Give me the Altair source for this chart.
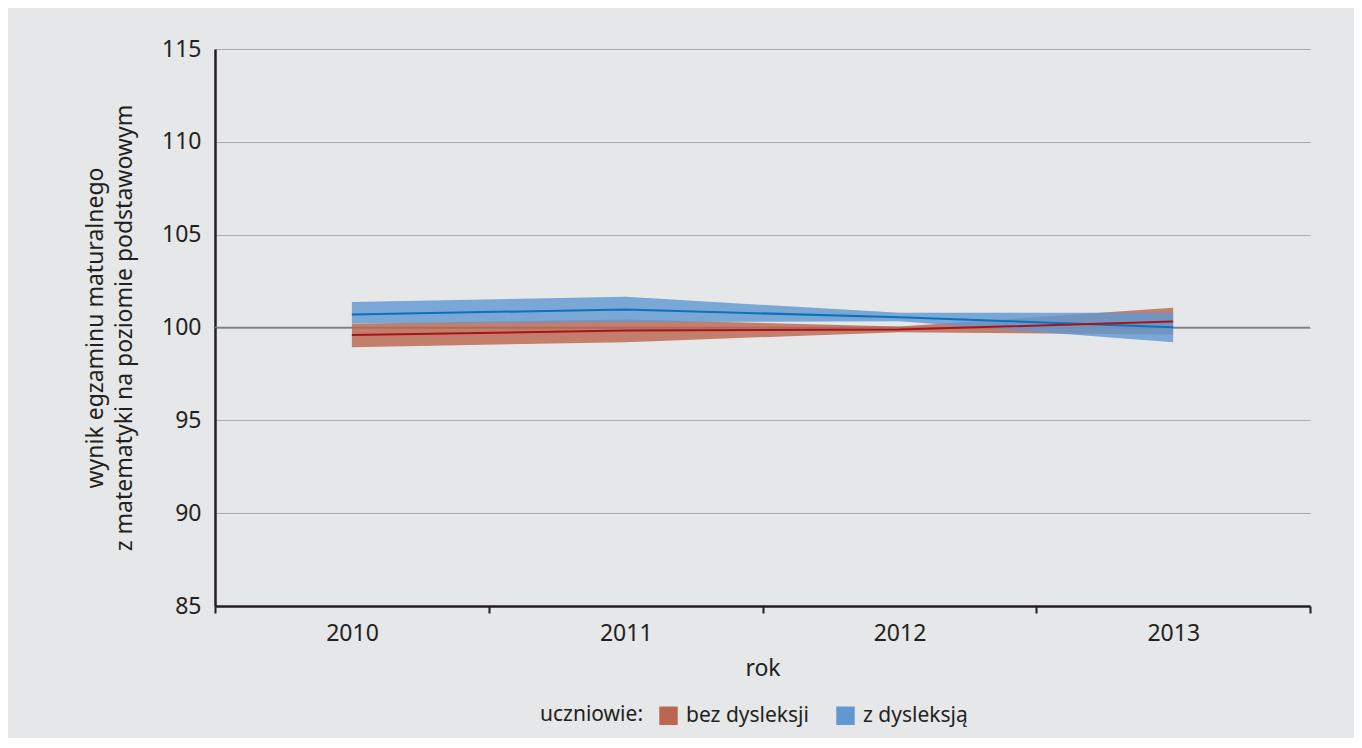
import altair as alt
import pandas as pd

years = [2010, 2011, 2012, 2013]
groups = ["bez dysleksji", "z dysleksją"]

bez_mean = [99.59, 99.84, 99.89, 100.32]
bez_low = [98.94, 99.21, 99.75, 99.62]
bez_high = [100.20, 100.43, 100.05, 101.06]

z_mean = [100.70, 100.97, 100.55, 100.02]
z_low = [100.22, 100.29, 100.34, 99.20]
z_high = [101.38, 101.65, 100.79, 100.80]

y_ticks = [85, 90, 95, 100, 105, 110, 115]
x_ticks = [2009.5, 2010.5, 2011.5, 2012.5, 2013.5]

rows = []
for i, yr in enumerate(years):
    rows.append({"rok": yr, "grupa": groups[0], "mean": bez_mean[i], "low": bez_low[i], "high": bez_high[i]})
    rows.append({"rok": yr, "grupa": groups[1], "mean": z_mean[i], "low": z_low[i], "high": z_high[i]})
df = pd.DataFrame(rows)

FONT = "Noto Sans"
TXT = "#231f20"
RED_BAND = "#bb6650"
BLUE_BAND = "#6099d2"
RED_LINE = "#a8131c"
BLUE_LINE = "#0b72bb"

x_enc = alt.X(
    "rok:Q",
    scale=alt.Scale(domain=[2009.5, 2013.5], nice=False, zero=False),
    axis=alt.Axis(
        values=x_ticks,
        title="rok",
        labelExpr="datum.value < 2013 ? toString(datum.value + 0.5) : ''",
        labelOffset=137,
        labelFlush=False,
        labelOverlap=False,
        labelPadding=9,
        tickSize=7,
        tickWidth=2,
        tickColor=TXT,
        domainColor=TXT,
        domainWidth=2.5,
        grid=False,
        titlePadding=12,
    ),
)

y_scale = alt.Scale(domain=[85, 115], nice=False, zero=False)
y_axis = alt.Axis(
    values=y_ticks,
    title=["wynik egzaminu maturalnego", "z matematyki na poziomie podstawowym"],
    tickSize=0,
    labelPadding=14,
    domainColor=TXT,
    domainWidth=2.5,
    grid=True,
    gridColor="#a9abae",
    gridWidth=1,
    titlePadding=25,
    titleLineHeight=29,
)

base = alt.Chart(df)

ref = alt.Chart(pd.DataFrame({"v": [100]})).mark_rule(color="#7d7f82", strokeWidth=1.5).encode(
    y=alt.Y("v:Q", scale=y_scale, axis=y_axis)
)

bands = base.mark_area(opacity=0.82, interpolate="linear").encode(
    x=x_enc,
    y=alt.Y("low:Q", scale=y_scale, axis=y_axis),
    y2="high:Q",
    color=alt.Color(
        "grupa:N",
        scale=alt.Scale(domain=groups, range=[RED_BAND, BLUE_BAND]),
        legend=alt.Legend(
            title="uczniowie:",
            orient="none",
            legendX=325,
            legendY=656,
            direction="horizontal",
            titleOrient="left",
            titlePadding=14,
            titleFontSize=21,
            titleFontWeight="normal",
            titleColor=TXT,
            titleFont=FONT,
            labelFontSize=21,
            labelColor=TXT,
            labelFont=FONT,
            labelOffset=7,
            symbolType="square",
            symbolSize=340,
            symbolOpacity=1,
            symbolStrokeWidth=0,
            columnPadding=26,
        ),
    ),
    order=alt.Order("grupa:N"),
)

line_red = base.transform_filter(alt.datum.grupa == groups[0]).mark_line(
    color=RED_LINE, strokeWidth=2
).encode(x="rok:Q", y="mean:Q")

line_blue = base.transform_filter(alt.datum.grupa == groups[1]).mark_line(
    color=BLUE_LINE, strokeWidth=2
).encode(x="rok:Q", y="mean:Q")

chart = (
    alt.layer(ref, bands, line_blue, line_red)
    .properties(
        width=1095,
        height=557,
        background="#e6e7e8",
        padding={"left": 207, "top": 41, "right": 44, "bottom": 132},
        autosize=alt.AutoSizeParams(type="none"),
    )
    .configure_view(stroke=None)
    .configure_axis(
        labelFont=FONT,
        titleFont=FONT,
        labelFontSize=23,
        titleFontSize=23,
        labelColor=TXT,
        titleColor=TXT,
        titleFontWeight="normal",
    )
)

chart.save("out.html", embed_options={"renderer": "svg", "actions": False})
